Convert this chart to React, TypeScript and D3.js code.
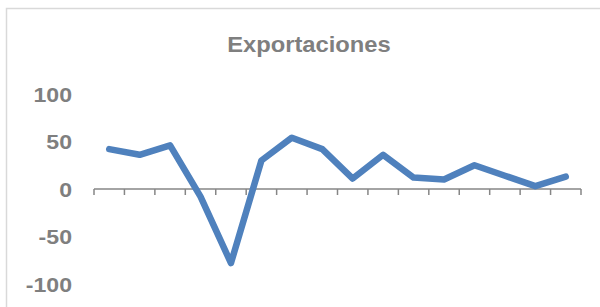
import React from 'react';
import * as d3 from 'd3';

const periods = ['1', '2', '3', '4', '5', '6', '7', '8', '9', '10', '11', '12', '13', '14', '15', '16'];
const exportaciones = [42, 36, 46, -8, -78, 30, 54, 42, 11, 36, 12, 10, 25, 14, 3, 13];
const yTicks = [100, 50, 0, -50, -100];

const W = 600;
const H = 307;

export default function App() {
  const x = d3.scaleBand<string>().domain(periods).range([94, 581]).padding(0);
  const y = d3.scaleLinear().domain([-100, 100]).range([284, 94]);

  const line = d3
    .line<number>()
    .x((d, i) => (x(periods[i]) as number) + x.bandwidth() / 2)
    .y((d) => y(d));

  // tick marks sit on the band edges
  const edges = periods.map((p) => x(p) as number).concat([x.range()[1]]);
  const textColor = '#7f7f7f';

  return (
    <svg width={W} height={H} style={{ position: 'absolute', left: 0, top: 0 }}>
      <rect x={0} y={0} width={W} height={H} fill="#fff" />
      <path d="M6.5,320 V8.5 H620" fill="none" stroke="#d9d9d9" strokeWidth={1.5} />
      <text
        x={309}
        y={52}
        textAnchor="middle"
        fontFamily="Liberation Sans, Arial, sans-serif"
        fontWeight="bold"
        fontSize={22}
        fill={textColor}
        transform="translate(309,0) scale(1.08,1) translate(-309,0)"
      >
        Exportaciones
      </text>
      {yTicks.map((t) => (
        <text
          key={t}
          x={72}
          y={y(t)}
          dy="0.36em"
          textAnchor="end"
          fontFamily="Liberation Sans, Arial, sans-serif"
          fontWeight="bold"
          fontSize={21}
          fill={textColor}
          transform={`translate(72,0) scale(1.1,1) translate(-72,0)`}
        >
          {t}
        </text>
      ))}
      <g stroke="#868686" strokeWidth={1.5}>
        <line x1={x.range()[0]} x2={x.range()[1]} y1={y(0)} y2={y(0)} />
        {edges.map((e, i) => (
          <line key={i} x1={e} x2={e} y1={y(0)} y2={y(0) + 6} />
        ))}
      </g>
      <path
        d={line(exportaciones) || ''}
        fill="none"
        stroke="#4f81bd"
        strokeWidth={6.5}
        strokeLinejoin="round"
        strokeLinecap="round"
      />
    </svg>
  );
}
